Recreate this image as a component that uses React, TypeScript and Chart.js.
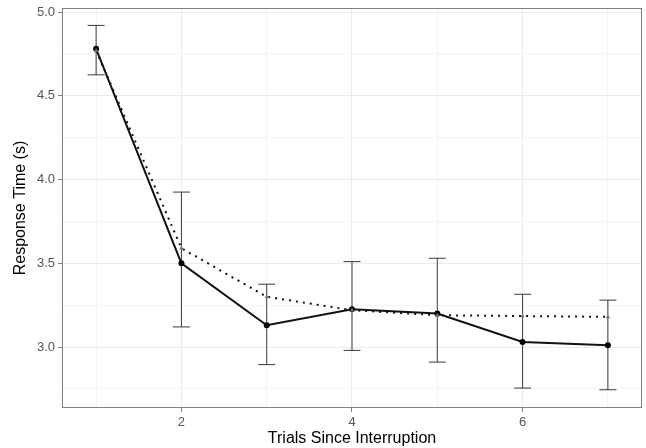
import React, { useEffect, useRef } from "react";
import { Chart, registerables } from "chart.js";

Chart.register(...registerables);

const trials = [1, 2, 3, 4, 5, 6, 7];
const solidMeans = [4.78, 3.5, 3.13, 3.225, 3.2, 3.03, 3.01];
const errUpper = [4.92, 3.925, 3.375, 3.51, 3.53, 3.315, 3.28];
const errLower = [4.625, 3.12, 2.895, 2.98, 2.91, 2.755, 2.745];
const dottedMeans = [4.77, 3.59, 3.3, 3.22, 3.19, 3.185, 3.18];
const xTicks = [1, 2, 3, 4, 5, 6, 7];
const yTicks = [2.75, 3.0, 3.25, 3.5, 3.75, 4.0, 4.25, 4.5, 4.75, 5.0];

const FONT = "'Liberation Sans', Arial, sans-serif";

const isHalf = (v: number) => Math.abs(v * 2 - Math.round(v * 2)) < 1e-6;

const errorBarPlugin = {
  id: "errorBars",
  beforeDatasetsDraw(chart: any) {
    const { ctx, scales } = chart;
    const xs = scales.x;
    const ys = scales.y;
    ctx.save();
    ctx.strokeStyle = "#3a3a3a";
    ctx.lineWidth = 1;
    const cap = 8.5;
    trials.forEach((t, i) => {
      const px = xs.getPixelForValue(t);
      const pt = ys.getPixelForValue(errUpper[i]);
      const pb = ys.getPixelForValue(errLower[i]);
      ctx.beginPath();
      ctx.moveTo(px, pt);
      ctx.lineTo(px, pb);
      ctx.moveTo(px - cap, pt);
      ctx.lineTo(px + cap, pt);
      ctx.moveTo(px - cap, pb);
      ctx.lineTo(px + cap, pb);
      ctx.stroke();
    });
    ctx.restore();
  },
};

const panelBorderPlugin = {
  id: "panelBorder",
  afterDraw(chart: any) {
    const { ctx, chartArea } = chart;
    ctx.save();
    ctx.strokeStyle = "#808080";
    ctx.lineWidth = 1;
    ctx.strokeRect(
      chartArea.left + 0.5,
      chartArea.top + 0.5,
      chartArea.right - chartArea.left - 1,
      chartArea.bottom - chartArea.top - 1
    );
    ctx.restore();
  },
};

export default function App() {
  const ref = useRef<HTMLCanvasElement | null>(null);

  useEffect(() => {
    document.body.style.margin = "0";
    const canvas = ref.current;
    if (!canvas) return;
    const chart = new Chart(canvas, {
      type: "line",
      data: {
        datasets: [
          {
            label: "dotted",
            data: trials.map((t, i) => ({ x: t, y: dottedMeans[i] })),
            borderColor: "#111",
            borderWidth: 2,
            borderDash: [2, 5],
            pointStyle: "triangle",
            pointRadius: 2.5,
            pointBackgroundColor: "#777",
            pointBorderColor: "#777",
            pointBorderWidth: 0,
            tension: 0,
          },
          {
            label: "solid",
            data: trials.map((t, i) => ({ x: t, y: solidMeans[i] })),
            borderColor: "#111",
            borderWidth: 2,
            pointStyle: "circle",
            pointRadius: 3,
            pointBackgroundColor: "#000",
            pointBorderColor: "#000",
            pointBorderWidth: 0,
            tension: 0,
          },
        ],
      },
      options: {
        animation: false,
        responsive: false,
        maintainAspectRatio: false,
        layout: { padding: { left: 0, right: 2, top: 8, bottom: 0 } },
        plugins: {
          legend: { display: false },
          tooltip: { enabled: false },
        },
        scales: {
          x: {
            type: "linear",
            min: 0.6,
            max: 7.4,
            afterBuildTicks: (s: any) => {
              s.ticks = xTicks.map((v) => ({ value: v }));
            },
            afterFit: (s: any) => {
              s.height = 40;
              s.paddingLeft = 0;
              s.paddingRight = 0;
            },
            border: { display: false },
            grid: {
              color: (c: any) => (c.tick && c.tick.value % 2 === 0 ? "#ebebeb" : "#f4f4f4"),
              lineWidth: 1,
              tickLength: 4,
              tickColor: (c: any) => (c.tick && c.tick.value % 2 === 0 ? "#808080" : "rgba(0,0,0,0)"),
            },
            ticks: {
              autoSkip: false,
              maxRotation: 0,
              padding: 3,
              color: "#555",
              font: { family: FONT, size: 13 },
              callback: (v: any) => (Number(v) % 2 === 0 ? String(v) : ""),
            },
            title: {
              display: true,
              text: "Trials Since Interruption",
              color: "#000",
              font: { family: FONT, size: 16 },
              padding: { top: 0, bottom: 0 },
            },
          },
          y: {
            type: "linear",
            min: 2.636,
            max: 5.024,
            afterBuildTicks: (s: any) => {
              s.ticks = yTicks.map((v) => ({ value: v }));
            },
            afterFit: (s: any) => {
              s.width = 62;
              s.paddingTop = 0;
              s.paddingBottom = 0;
            },
            border: { display: false },
            grid: {
              color: (c: any) => (c.tick && isHalf(c.tick.value) ? "#ebebeb" : "#f4f4f4"),
              lineWidth: 1,
              tickLength: 4,
              tickColor: (c: any) => (c.tick && isHalf(c.tick.value) ? "#808080" : "rgba(0,0,0,0)"),
            },
            ticks: {
              autoSkip: false,
              padding: 3,
              color: "#555",
              font: { family: FONT, size: 13 },
              callback: (v: any) => {
                const n = Number(v);
                return isHalf(n) ? n.toFixed(1) : "";
              },
            },
            title: {
              display: true,
              text: "Response Time (s)",
              color: "#000",
              font: { family: FONT, size: 16 },
              padding: { top: 11, bottom: 0 },
            },
          },
        },
      },
      plugins: [errorBarPlugin, panelBorderPlugin],
    } as any);
    return () => chart.destroy();
  }, []);

  return (
    <div style={{ width: 646, height: 448, background: "#fff" }}>
      <canvas ref={ref} width={646} height={448} style={{ display: "block" }} />
    </div>
  );
}
